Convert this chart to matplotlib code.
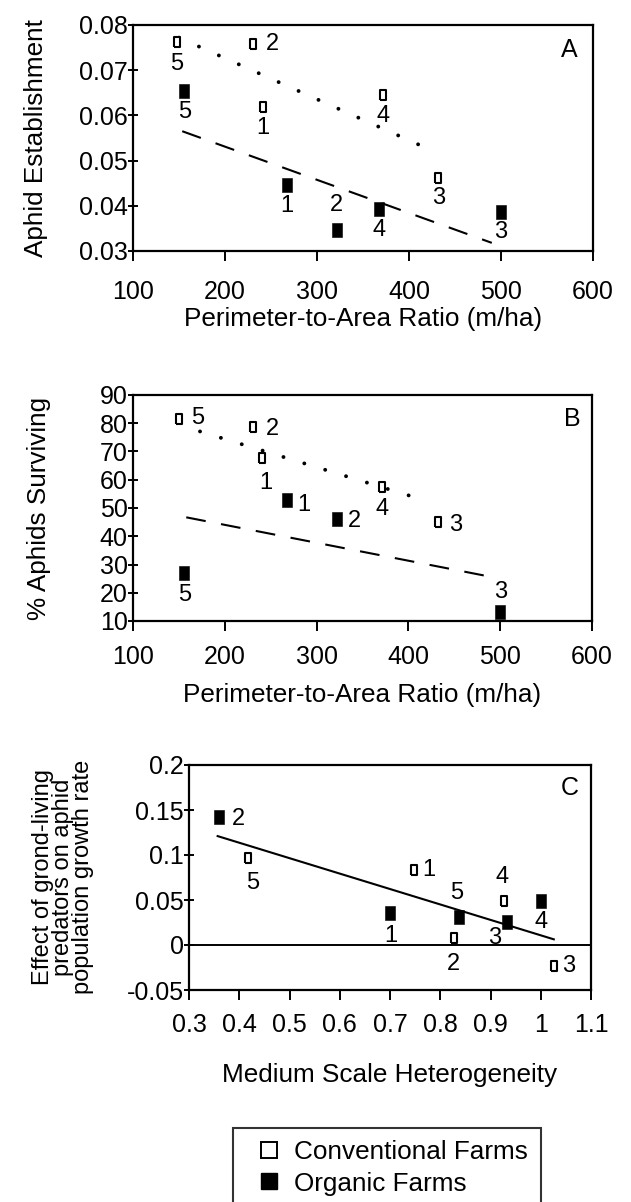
import matplotlib
matplotlib.use('Agg')
import matplotlib.pyplot as plt
from matplotlib.lines import Line2D

plt.rcParams['font.family'] = ['Liberation Sans', 'DejaVu Sans']
plt.rcParams['axes.unicode_minus'] = False

# ---------------- data ----------------
# Panel A
a_conv_x = [148, 230, 241, 371.5, 432]
a_conv_y = [0.0762, 0.0759, 0.0619, 0.0645, 0.0461]
a_conv_lab = ['5', '2', '1', '4', '3']
a_org_x = [155.7, 267.5, 321.5, 367.5, 500]
a_org_y = [0.0655, 0.0446, 0.0346, 0.0392, 0.0387]
a_org_lab = ['5', '1', '2', '4', '3']
a_conv_fit_x = [150, 422]
a_conv_fit_y = [0.0772, 0.0525]
a_org_fit_x = [153.5, 490]
a_org_fit_y = [0.0565, 0.0318]
a_xticks = [100, 200, 300, 400, 500, 600]
a_yticks = [0.03, 0.04, 0.05, 0.06, 0.07, 0.08]
a_yticklabels = ['0.03', '0.04', '0.05', '0.06', '0.07', '0.08']

# Panel B
b_conv_x = [150, 231, 241, 371.5, 432]
b_conv_y = [81.4, 78.5, 67.6, 57.3, 45.0]
b_conv_lab = ['5', '2', '1', '4', '3']
b_org_x = [156, 267.5, 322, 500]
b_org_y = [27.0, 53.0, 46.0, 13.3]
b_org_lab = ['5', '1', '2', '3']
b_conv_fit_x = [173, 422]
b_conv_fit_y = [77.1, 52.3]
b_org_fit_x = [158, 492]
b_org_fit_y = [46.7, 25.5]
b_xticks = [100, 200, 300, 400, 500, 600]
b_yticks = [10, 20, 30, 40, 50, 60, 70, 80, 90]

# Panel C
c_conv_x = [0.418, 0.748, 0.827, 0.926, 1.026]
c_conv_y = [0.0963, 0.0833, 0.0074, 0.049, -0.023]
c_conv_lab = ['5', '1', '2', '4', '3']
c_org_x = [0.359, 0.700, 0.837, 0.932, 1.000]
c_org_y = [0.1426, 0.036, 0.0315, 0.026, 0.049]
c_org_lab = ['2', '1', '5', '3', '4']
c_fit_x = [0.357, 1.026]
c_fit_y = [0.121, 0.0063]
c_xticks = [0.3, 0.4, 0.5, 0.6, 0.7, 0.8, 0.9, 1.0, 1.1]
c_xticklabels = ['0.3', '0.4', '0.5', '0.6', '0.7', '0.8', '0.9', '1', '1.1']
c_yticks = [-0.05, 0, 0.05, 0.1, 0.15, 0.2]
c_yticklabels = ['-0.05', '0', '0.05', '0.1', '0.15', '0.2']

xlabel_ab = 'Perimeter-to-Area Ratio (m/ha)'
xlabel_c = 'Medium Scale Heterogeneity'
ylabel_a = 'Aphid Establishment'
ylabel_b = '% Aphids Surviving'
ylabel_c = 'Effect of grond-living\npredators on aphid\npopulation growth rate'
legend_labels = ['Conventional Farms', 'Organic Farms']

# ---------------- layout (pixels) ----------------
W, H = 631, 1202
FS = 18      # tick labels
LFS = 18.8   # axis labels / legend

# label offsets in pixels (dx, dy) for each point label
off_a_conv = [(0, -22), (20, 0), (0, -21), (0, -21), (0, -20)]
off_a_org = [(0, -21), (0, -21), (0, 25), (0, -21), (0, -20)]
off_b_conv = [(19, 1), (19, -2), (3, -25), (0, -22), (18, -3)]
off_b_org = [(0, -22), (17, -5), (18, -2), (0, 20)]
off_c_conv = [(4, -25), (15, 0), (0, -26), (-2, 24), (15, 0)]
off_c_org = [(20, -2), (1, -23), (-2, 24), (-12, -16), (0, -21)]

fig = plt.figure(figsize=(W / 100, H / 100), dpi=100)


def rect(l, t, r, b):
    return [l / W, 1 - b / H, (r - l) / W, (b - t) / H]


open_mk = [(-0.62, -1), (0.62, -1), (0.62, 1), (-0.62, 1), (-0.62, -1)]
fill_mk = [(-0.72, -1), (0.72, -1), (0.72, 1), (-0.72, 1), (-0.72, -1)]


def style_axes(ax, xpad):
    for s in ax.spines.values():
        s.set_linewidth(1.6)
    ax.tick_params(axis='y', direction='inout', length=7.5, width=1.4,
                   labelsize=FS, pad=0)
    ax.tick_params(axis='x', direction='out', length=7, width=1.4,
                   labelsize=FS, pad=xpad)


def points(ax, x, y, labs, offs, filled):
    if filled:
        ax.plot(x, y, linestyle='none', marker=fill_mk, markersize=10,
                markerfacecolor='black', markeredgecolor='black',
                markeredgewidth=0.4, zorder=5, clip_on=False)
    else:
        ax.plot(x, y, linestyle='none', marker=open_mk, markersize=7.2,
                markerfacecolor='white', markeredgecolor='black',
                markeredgewidth=1.5, zorder=5, clip_on=False)
    for xi, yi, lab, (dx, dy) in zip(x, y, labs, offs):
        ax.annotate(lab, (xi, yi), xytext=(dx, dy), textcoords='offset pixels',
                    ha='center', va='center', fontsize=FS - 1, zorder=6)


def dotted(ax, x, y):
    ax.plot(x, y, color='black', linewidth=2.8, linestyle=(0, (0.01, 5.6)),
            dash_capstyle='round', zorder=3)


def dashed(ax, x, y):
    ax.plot(x, y, color='black', linewidth=1.5, linestyle=(0, (9.5, 7.5)),
            zorder=3)


# ---------- Panel A ----------
axA = fig.add_axes(rect(133, 25, 593, 251))
dotted(axA, a_conv_fit_x, a_conv_fit_y)
dashed(axA, a_org_fit_x, a_org_fit_y)
points(axA, a_conv_x, a_conv_y, a_conv_lab, off_a_conv, False)
points(axA, a_org_x, a_org_y, a_org_lab, off_a_org, True)
axA.set_xlim(100, 600)
axA.set_ylim(0.03, 0.08)
axA.set_xticks(a_xticks)
axA.set_yticks(a_yticks)
axA.set_yticklabels(a_yticklabels)
style_axes(axA, 14)
axA.set_xlabel(xlabel_ab, fontsize=LFS, labelpad=2)
axA.text(1 - 24 / 460, 1 - 25 / 226, 'A', transform=axA.transAxes,
         fontsize=FS, ha='center', va='center', zorder=6)

# ---------- Panel B ----------
axB = fig.add_axes(rect(133, 395, 592, 621))
dotted(axB, b_conv_fit_x, b_conv_fit_y)
dashed(axB, b_org_fit_x, b_org_fit_y)
points(axB, b_conv_x, b_conv_y, b_conv_lab, off_b_conv, False)
points(axB, b_org_x, b_org_y, b_org_lab, off_b_org, True)
axB.set_xlim(100, 600)
axB.set_ylim(10, 90)
axB.set_xticks(b_xticks)
axB.set_yticks(b_yticks)
style_axes(axB, 10.5)
axB.set_xlabel(xlabel_ab, fontsize=LFS, labelpad=10)
axB.text(1 - 20 / 459, 1 - 24 / 226, 'B', transform=axB.transAxes,
         fontsize=FS, ha='center', va='center', zorder=6)

# ---------- Panel C ----------
axC = fig.add_axes(rect(189, 765, 591, 990))
axC.axhline(0, color='black', linewidth=1.4, zorder=2)
axC.plot(c_fit_x, c_fit_y, color='black', linewidth=1.5, zorder=3)
points(axC, c_conv_x, c_conv_y, c_conv_lab, off_c_conv, False)
points(axC, c_org_x, c_org_y, c_org_lab, off_c_org, True)
axC.set_xlim(0.3, 1.1)
axC.set_ylim(-0.05, 0.2)
axC.set_xticks(c_xticks)
axC.set_xticklabels(c_xticklabels)
axC.set_yticks(c_yticks)
axC.set_yticklabels(c_yticklabels)
style_axes(axC, 9.5)
axC.set_xlabel(xlabel_c, fontsize=LFS, labelpad=19)
axC.text(1 - 21 / 402, 1 - 23 / 225, 'C', transform=axC.transAxes,
         fontsize=FS, ha='center', va='center', zorder=6)

# y labels
fig.text(36 / W, 1 - 138 / H, ylabel_a, rotation=90, ha='center', va='center',
         fontsize=LFS)
fig.text(39 / W, 1 - 508 / H, ylabel_b, rotation=90, ha='center', va='center',
         fontsize=LFS)
fig.text(63 / W, 1 - 877 / H, ylabel_c, rotation=90, ha='center', va='center',
         fontsize=17, linespacing=0.88, multialignment='center')

# legend
handles = [
    Line2D([], [], linestyle='none', marker='s', markersize=11,
           markerfacecolor='white', markeredgecolor='black', markeredgewidth=1.4),
    Line2D([], [], linestyle='none', marker='s', markersize=11,
           markerfacecolor='black', markeredgecolor='black'),
]
leg_l, leg_r, leg_t = 233.5, 541, 1128
leg = fig.legend(handles, legend_labels, loc='upper left',
                 bbox_to_anchor=(leg_l / W, 1 - leg_t / H, (leg_r - leg_l) / W, 0),
                 mode='expand', borderaxespad=0,
                 fontsize=LFS, frameon=True, fancybox=False, borderpad=0.45,
                 handlelength=1.82, handletextpad=0.05, labelspacing=0.3)
leg.get_frame().set_edgecolor('black')
leg.get_frame().set_linewidth(1.5)

fig.savefig('out.png', dpi=100)
